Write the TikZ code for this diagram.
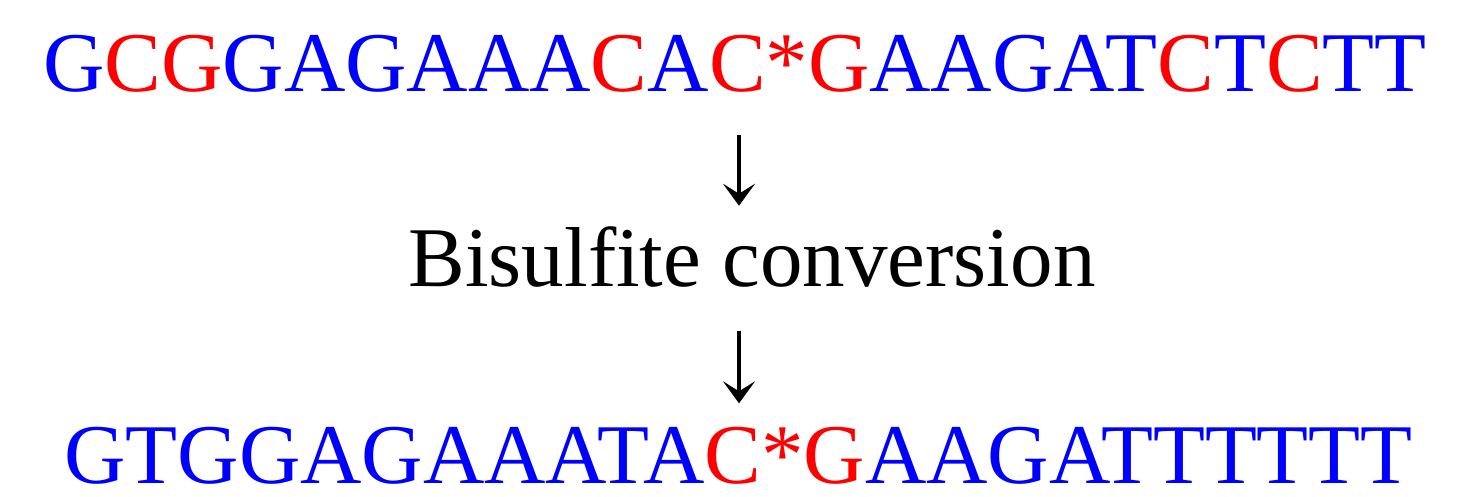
\documentclass[tikz,border=0pt]{standalone}
\usepackage{fontspec}
\setmainfont{Liberation Serif}
\usetikzlibrary{arrows.meta}
\definecolor{BaseBlue}{HTML}{0000FF}
\definecolor{BaseRed}{HTML}{FF0000}
\newcommand{\nb}[1]{\textcolor{BaseBlue}{#1}}
\newcommand{\nr}[1]{\textcolor{BaseRed}{#1}}

\begin{document}
\begin{tikzpicture}[
        x=1pt, y=1pt,
        seq/.style={anchor=base, inner sep=0pt, font=\fontsize{42.5}{50}\selectfont},
        convtext/.style={anchor=base, inner sep=0pt, font=\fontsize{42.5}{50}\selectfont},
        flow/.style={-{Stealth[length=11pt, width=16pt, inset=5pt]}, line width=2.2pt}
      ]
        \useasboundingbox (0,0) rectangle (742,248.5);
        \node[seq] (orig) at (367.5,202.5)
          {\nb{G}\nr{CG}\nb{GAGAAA}\nr{C}\nb{A}\nr{C*G}\nb{AAGAT}\nr{C}\nb{T}\nr{C}\nb{TT}};
        \node[convtext] (conv) at (376,105) {Bisulfite conversion};
        \node[seq] (conv_seq) at (369.25,6.5)
          {\nb{GTGGAGAAATA}\nr{C*G}\nb{AAGATTTTTT}};
        \draw[flow, shorten <=21pt, shorten >=10.5pt]
          ([xshift=2pt]orig.south) -- ([xshift=2pt]orig.south |- conv.north);
        \draw[flow, shorten <=21.5pt, shorten >=12pt]
          ([xshift=-6.5pt]conv.south) -- ([xshift=-6.5pt]conv.south |- conv_seq.north);
      \end{tikzpicture}
\end{document}
